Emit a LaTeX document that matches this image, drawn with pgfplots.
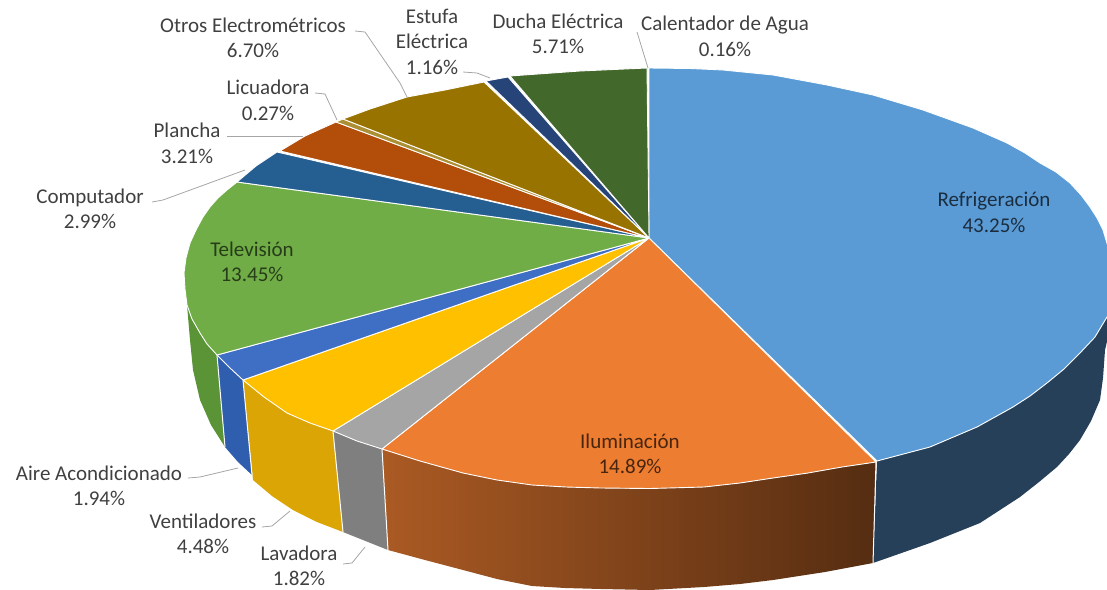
\documentclass[border=0pt]{standalone}
\usepackage{fontspec}
\setmainfont{Carlito}
\usepackage{pgfplots}
\pgfplotsset{compat=1.18}

\definecolor{cRef}{HTML}{5B9BD5}
\definecolor{cRefS}{HTML}{264059}
\definecolor{cIlu}{HTML}{ED7D31}
\definecolor{cLav}{HTML}{A5A5A5}
\definecolor{cLavS}{HTML}{7F7F7F}
\definecolor{cVen}{HTML}{FFC000}
\definecolor{cVenS}{HTML}{DAA505}
\definecolor{cAir}{HTML}{3F6FC4}
\definecolor{cAirS}{HTML}{2F5EAE}
\definecolor{cTel}{HTML}{70AD47}
\definecolor{cTelS}{HTML}{5A9436}
\definecolor{cCom}{HTML}{255E91}
\definecolor{cPla}{HTML}{B34D0A}
\definecolor{cOtr}{HTML}{997300}
\definecolor{cEst}{HTML}{264478}
\definecolor{cDuc}{HTML}{43682B}
\definecolor{cTxt}{HTML}{404040}
\definecolor{cLead}{HTML}{A6A6A6}

\tikzset{
  top/.style={fill=#1, draw=white, line width=0.9pt, line join=round},
  side/.style={fill=#1, draw=none},
  edge/.style={draw=white, line width=1pt},
  lead/.style={draw=cLead, line width=0.8pt},
  lab/.style={font=\fontsize{21}{25.5}\selectfont, align=center, text=cTxt, inner sep=0pt},
}

\begin{document}
\begin{tikzpicture}
\path[use as bounding box] (0,0) rectangle (1107pt,589pt);
\begin{axis}[
  hide axis,
  scale only axis,
  width=1107pt,
  height=589pt,
  xmin=0, xmax=1107,
  ymin=0, ymax=589,
  y dir=reverse,
]

% sides
\addplot[side=cRefS] coordinates {(877,461) (930,447) (977,427) (1013,407) (1047,383) (1080,353) (1107,317) (1112,320) (1105,350) (1103,378) (1100,400) (1091,421) (1080,440) (1069,454) (1057,467) (1039,482) (1020,497) (980,523) (930,543) (873,563)} --cycle;
\addplot[draw=none, left color=cIlu!72!black, right color=cIlu!36!black] coordinates {(382,449) (420,461) (463,473) (497,480) (532,485) (566,487) (601,488) (650,488.5) (704,487) (740,483) (773,478) (842,467) (876,462) (873,563) (825,572) (773,580) (740,584) (704,587) (650,590) (601,589) (565,588) (532,586) (497,579) (463,570) (425,560) (388,550)} --cycle;
\addplot[side=cLavS] coordinates {(333,431) (357,441) (382,449) (388,550) (343,532)} --cycle;
\addplot[side=cVenS] coordinates {(243,380) (264,397) (287,413) (310,423) (333,431) (343,532) (317,522) (293,510) (272,496) (253,480)} --cycle;
\addplot[side=cAirS] coordinates {(217,355) (230,368) (243,380) (252,475) (238,462) (225,447)} --cycle;
\addplot[side=cTelS] coordinates {(187,305) (200,333) (217,355) (225,447) (211,425) (200,400) (193,370) (190,340)} --cycle;

% lines between the sides
\addplot[edge] coordinates {(876,462) (873,563)};
\addplot[edge] coordinates {(382,449) (388,550)};
\addplot[edge] coordinates {(333,431) (343,532)};
\addplot[edge] coordinates {(243,380) (252,475)};
\addplot[edge] coordinates {(217,355) (225,447)};

% top
\addplot[top=cRef] coordinates {(649,238) (649,68) (690,68.5) (723,70) (773,75) (827,85) (873,95) (923,110) (973,128) (1007,143) (1025,153) (1040,163) (1056,172) (1070,183) (1081,195) (1090,207) (1097,218) (1103,230) (1112,260) (1112,310) (1107,317) (1095,337) (1080,353) (1064,369) (1047,383) (1030,396) (1013,407) (977,427) (930,447) (877,461)} --cycle;
\addplot[top=cIlu] coordinates {(649,238) (876,462) (842,467) (808,473) (773,478) (740,483) (704,487) (650,488.5) (601,488) (566,487) (532,485) (497,480) (463,473) (420,461) (382,449)} --cycle;
\addplot[top=cLav] coordinates {(649,238) (382,449) (357,441) (333,431)} --cycle;
\addplot[top=cVen] coordinates {(649,238) (333,431) (310,423) (287,413) (264,397) (243,380)} --cycle;
\addplot[top=cAir] coordinates {(649,238) (243,380) (230,368) (217,355)} --cycle;
\addplot[top=cTel] coordinates {(649,238) (217,355) (207,344) (200,333) (192,319) (187,305) (185,289) (184,273) (186,258) (190,243) (196,230) (203,217) (210,207) (218,198) (227,190) (237,182)} --cycle;
\addplot[top=cCom] coordinates {(649,238) (237,182) (256,166) (277,152)} --cycle;
\addplot[top=cPla] coordinates {(649,238) (280,151) (305,136) (336,122)} --cycle;
\addplot[top=cOtr!80!white] coordinates {(649,238) (336,122) (343,119)} --cycle;
\addplot[top=cOtr] coordinates {(649,238) (343,119) (370,109) (407,97) (445,90) (484,82)} --cycle;
\addplot[top=cEst] coordinates {(649,238) (486,81) (508,77)} --cycle;
\addplot[top=cDuc] coordinates {(649,238) (510,76) (580,71) (647,68)} --cycle;

% leader lines
\addplot[lead] coordinates {(355,31) (365,32) (400,83) (407,97)};
\addplot[lead] coordinates {(315,93) (325,94) (337,120)};
\addplot[lead] coordinates {(227,136) (303,136)};
\addplot[lead] coordinates {(152,202) (163,200) (245,170)};
\addplot[lead] coordinates {(463,72) (477,73) (490,78)};
\addplot[lead] coordinates {(637,32) (648,68)};
\addplot[lead] coordinates {(188,478) (200,477) (238,468)};
\addplot[lead] coordinates {(262,527) (272,526) (290,511)};
\addplot[lead] coordinates {(343,564) (352,563) (365,547)};

% labels
\node[lab] at (axis cs:253,38) {Otros Electrométricos\\6.70\%};
\node[lab] at (axis cs:268,100.5) {Licuadora\\0.27\%};
\node[lab] at (axis cs:187,143.5) {Plancha\\3.21\%};
\node[lab] at (axis cs:90,209) {Computador\\2.99\%};
\node[lab] at (axis cs:432,41.5) {Estufa\\Eléctrica\\1.16\%};
\node[lab] at (axis cs:558,34) {Ducha Eléctrica\\5.71\%};
\node[lab] at (axis cs:725,36.5) {Calentador de Agua\\0.16\%};
\node[lab, text=cRef!30!black] at (axis cs:994,212.5) {Refrigeración\\43.25\%};
\node[lab, text=cTel!35!black] at (axis cs:252,262) {Televisión\\13.45\%};
\node[lab, text=cIlu!30!black] at (axis cs:630,454) {Iluminación\\14.89\%};
\node[lab] at (axis cs:99,486) {Aire Acondicionado\\1.94\%};
\node[lab] at (axis cs:203,534) {Ventiladores\\4.48\%};
\node[lab] at (axis cs:299,566) {Lavadora\\1.82\%};

\end{axis}
\end{tikzpicture}
\end{document}
